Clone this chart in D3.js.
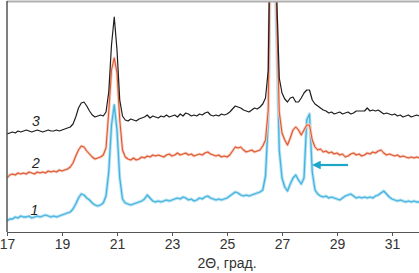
<!DOCTYPE html>
<html>
<head>
<meta charset="utf-8">
<script src="https://cdn.jsdelivr.net/npm/d3@7"></script>
<style>
  body { margin: 0; background: #fff; }
  svg { display: block; font-family: "Liberation Sans", Arial, sans-serif; }
</style>
</head>
<body>
<div id="chart"></div>
<script>
// 2-theta grid, degrees
var twoTheta = [
  17.0,17.1,17.2,17.3,17.4,17.5,17.6,17.7,17.8,17.9,
  18.0,18.1,18.2,18.3,18.4,18.5,18.6,18.7,18.8,18.9,
  19.0,19.1,19.2,19.3,19.4,19.5,19.6,19.7,19.8,19.9,
  20.0,20.1,20.2,20.3,20.4,20.5,20.6,20.7,20.8,20.9,
  21.0,21.1,21.2,21.3,21.4,21.5,21.6,21.7,21.8,21.9,
  22.0,22.1,22.2,22.3,22.4,22.5,22.6,22.7,22.8,22.9,
  23.0,23.1,23.2,23.3,23.4,23.5,23.6,23.7,23.8,23.9,
  24.0,24.1,24.2,24.3,24.4,24.5,24.6,24.7,24.8,24.9,
  25.0,25.1,25.2,25.3,25.4,25.5,25.6,25.7,25.8,25.9,
  26.0,26.1,26.2,26.3,26.4,26.5,26.6,26.7,26.8,26.9,
  27.0,27.1,27.2,27.3,27.4,27.5,27.6,27.7,27.8,27.9,
  28.0,28.1,28.2,28.3,28.4,28.5,28.6,28.7,28.8,28.9,
  29.0,29.1,29.2,29.3,29.4,29.5,29.6,29.7,29.8,29.9,
  30.0,30.1,30.2,30.3,30.4,30.5,30.6,30.7,30.8,30.9,
  31.0,31.1,31.2,31.3,31.4,31.5,31.6,31.7,31.8,31.9,
  32.0
];

// intensities (a.u., already offset for stacking)
var curve3 = [
  98,99,100,99,101,100,101,102,101,100,
  101,102,101,100,101,102,101,101,102,101,
  102,103,104,105,108,115,124,129,130,126,
  121,117,115,116,117,116,120,140,187,215,
  182,132,116,112,111,113,112,111,113,114,
  115,117,114,116,115,114,116,115,117,115,
  116,117,115,118,116,119,118,116,117,116,
  118,117,119,120,117,116,117,116,118,117,
  118,120,123,126,125,124,122,121,120,122,
  124,123,125,128,134,162,382,332,242,154,
  139,133,130,134,135,130,130,134,139,142,
  142,132,128,126,124,122,121,119,120,118,
  119,120,118,119,120,118,119,121,121,121,
  121,124,121,122,121,122,120,118,119,118,
  117,118,116,117,115,116,117,115,116,117,
  116
];

var curve2 = [
  54,57,58,57,59,58,59,58,60,59,
  58,60,59,60,59,61,60,61,60,62,
  61,62,63,65,69,76,82,86,85,81,
  78,75,73,74,75,77,84,120,162,174,
  159,112,82,75,73,72,74,72,73,75,
  74,76,75,77,76,77,76,75,77,78,
  76,77,79,77,78,79,77,78,76,77,
  78,77,79,80,78,77,76,77,75,76,
  75,77,81,85,84,85,82,80,81,82,
  80,81,82,86,92,122,352,322,222,120,
  99,92,87,94,102,105,102,97,102,107,
  107,92,85,82,83,80,81,79,80,78,
  79,77,78,75,76,78,79,77,78,76,
  77,79,78,80,79,81,82,79,77,78,
  77,76,77,75,76,75,74,75,74,75,
  74
];

var curve1 = [
  11,13,13,15,14,16,15,15,16,14,
  15,16,15,16,17,16,15,16,15,16,
  17,18,19,20,23,28,34,38,37,34,
  32,29,27,26,27,29,36,60,107,127,
  102,54,33,29,28,27,28,29,30,31,
  33,37,34,31,30,31,30,31,32,31,
  32,33,34,33,35,34,32,33,31,32,
  34,33,35,36,34,33,32,33,32,33,
  34,36,38,40,39,37,36,37,36,37,
  38,39,40,42,56,112,332,312,202,82,
  54,45,41,48,54,57,52,48,54,112,
  118,60,42,38,36,35,36,34,35,34,
  33,32,34,36,37,38,36,34,35,34,
  35,34,35,34,36,37,39,41,38,35,
  33,32,31,32,31,30,31,30,31,30,
  30
];

var tickValues = [17, 19, 21, 23, 25, 27, 29, 31];
var curveNames = ["3", "2", "1"];
var labelPos = [[18.05, 106], [18.05, 64], [18.0, 17]];
var arrowFrom = [29.4, 67], arrowTo = [28.25, 67];
var xTitle = "2\u0398, \u0433\u0440\u0430\u0434.";

var W = 419, H = 273;
var plotLeft = 7, plotRight = 419, plotTop = 2, plotBottom = 232;

var svg = d3.select("#chart").append("svg")
    .attr("width", W)
    .attr("height", H);

var x = d3.scaleLinear().domain([17, 32]).range([plotLeft, plotLeft + 15 * 27.5]);
var y = d3.scaleLinear().domain([0, 230]).range([plotBottom, plotTop]);

svg.append("clipPath").attr("id", "plot")
  .append("rect")
    .attr("x", plotLeft).attr("y", plotTop)
    .attr("width", plotRight - plotLeft).attr("height", plotBottom - plotTop);

var g = svg.append("g").attr("clip-path", "url(#plot)");

function lineFor(vals) {
    return d3.line()
        .x(function (d, i) { return x(twoTheta[i]); })
        .y(function (d) { return y(d); })(vals);
}

// blue (1), with a soft halo
g.append("path").attr("d", lineFor(curve1))
    .attr("fill", "none").attr("stroke", "#b7e3f4").attr("stroke-width", 3.2)
    .attr("stroke-linejoin", "round");
g.append("path").attr("d", lineFor(curve1))
    .attr("fill", "none").attr("stroke", "#45b3de").attr("stroke-width", 1.3)
    .attr("stroke-linejoin", "round");

// red (2)
g.append("path").attr("d", lineFor(curve2))
    .attr("fill", "none").attr("stroke", "#f7cdbf").attr("stroke-width", 2.8)
    .attr("stroke-linejoin", "round");
g.append("path").attr("d", lineFor(curve2))
    .attr("fill", "none").attr("stroke", "#df5730").attr("stroke-width", 1.1)
    .attr("stroke-linejoin", "round");

// black (3)
g.append("path").attr("d", lineFor(curve3))
    .attr("fill", "none").attr("stroke", "#1e1e1e").attr("stroke-width", 1.2)
    .attr("stroke-linejoin", "round");

// frame
svg.append("line")
    .attr("x1", plotLeft).attr("x2", plotRight).attr("y1", 1.5).attr("y2", 1.5)
    .attr("stroke", "#b0b0b0").attr("stroke-width", 2);
svg.append("line")
    .attr("x1", plotLeft).attr("x2", plotLeft).attr("y1", 1).attr("y2", plotBottom)
    .attr("stroke", "#555").attr("stroke-width", 1.5);

// x axis
var xAxis = svg.append("g")
    .attr("transform", "translate(0," + plotBottom + ")")
    .call(d3.axisBottom(x).tickValues(tickValues).tickSize(4).tickSizeOuter(0)
        .tickFormat(d3.format("d")));
xAxis.select(".domain").attr("stroke", "#555").attr("stroke-width", 1.2);
xAxis.selectAll(".tick line").attr("stroke", "#555");
xAxis.selectAll(".tick text")
    .attr("y", 7)
    .attr("fill", "#333")
    .style("font-size", "14px")
    .style("font-family", "'Liberation Sans', Arial, sans-serif");

svg.append("text")
    .attr("x", x(25))
    .attr("y", 268)
    .attr("text-anchor", "middle")
    .attr("fill", "#333")
    .style("font-size", "14px")
    .text(xTitle);

// curve numbers
svg.selectAll(".cname")
    .data(curveNames)
    .enter().append("text")
    .attr("class", "cname")
    .attr("x", function (d, i) { return x(labelPos[i][0]); })
    .attr("y", function (d, i) { return y(labelPos[i][1]); })
    .attr("text-anchor", "middle")
    .attr("fill", "#222")
    .style("font-size", "14px")
    .style("font-style", "italic")
    .text(function (d) { return d; });

// arrow pointing at the new reflection
svg.append("defs").append("marker")
    .attr("id", "head")
    .attr("viewBox", "0 0 10 10")
    .attr("refX", 5).attr("refY", 5)
    .attr("markerWidth", 4).attr("markerHeight", 4)
    .attr("orient", "auto")
  .append("path")
    .attr("d", "M0,0L10,5L0,10z")
    .attr("fill", "#1ea6c8");

svg.append("line")
    .attr("x1", x(arrowFrom[0])).attr("y1", y(arrowFrom[1]))
    .attr("x2", x(arrowTo[0])).attr("y2", y(arrowTo[1]))
    .attr("stroke", "#1ea6c8").attr("stroke-width", 2.2)
    .attr("marker-end", "url(#head)");
</script>
</body>
</html>
